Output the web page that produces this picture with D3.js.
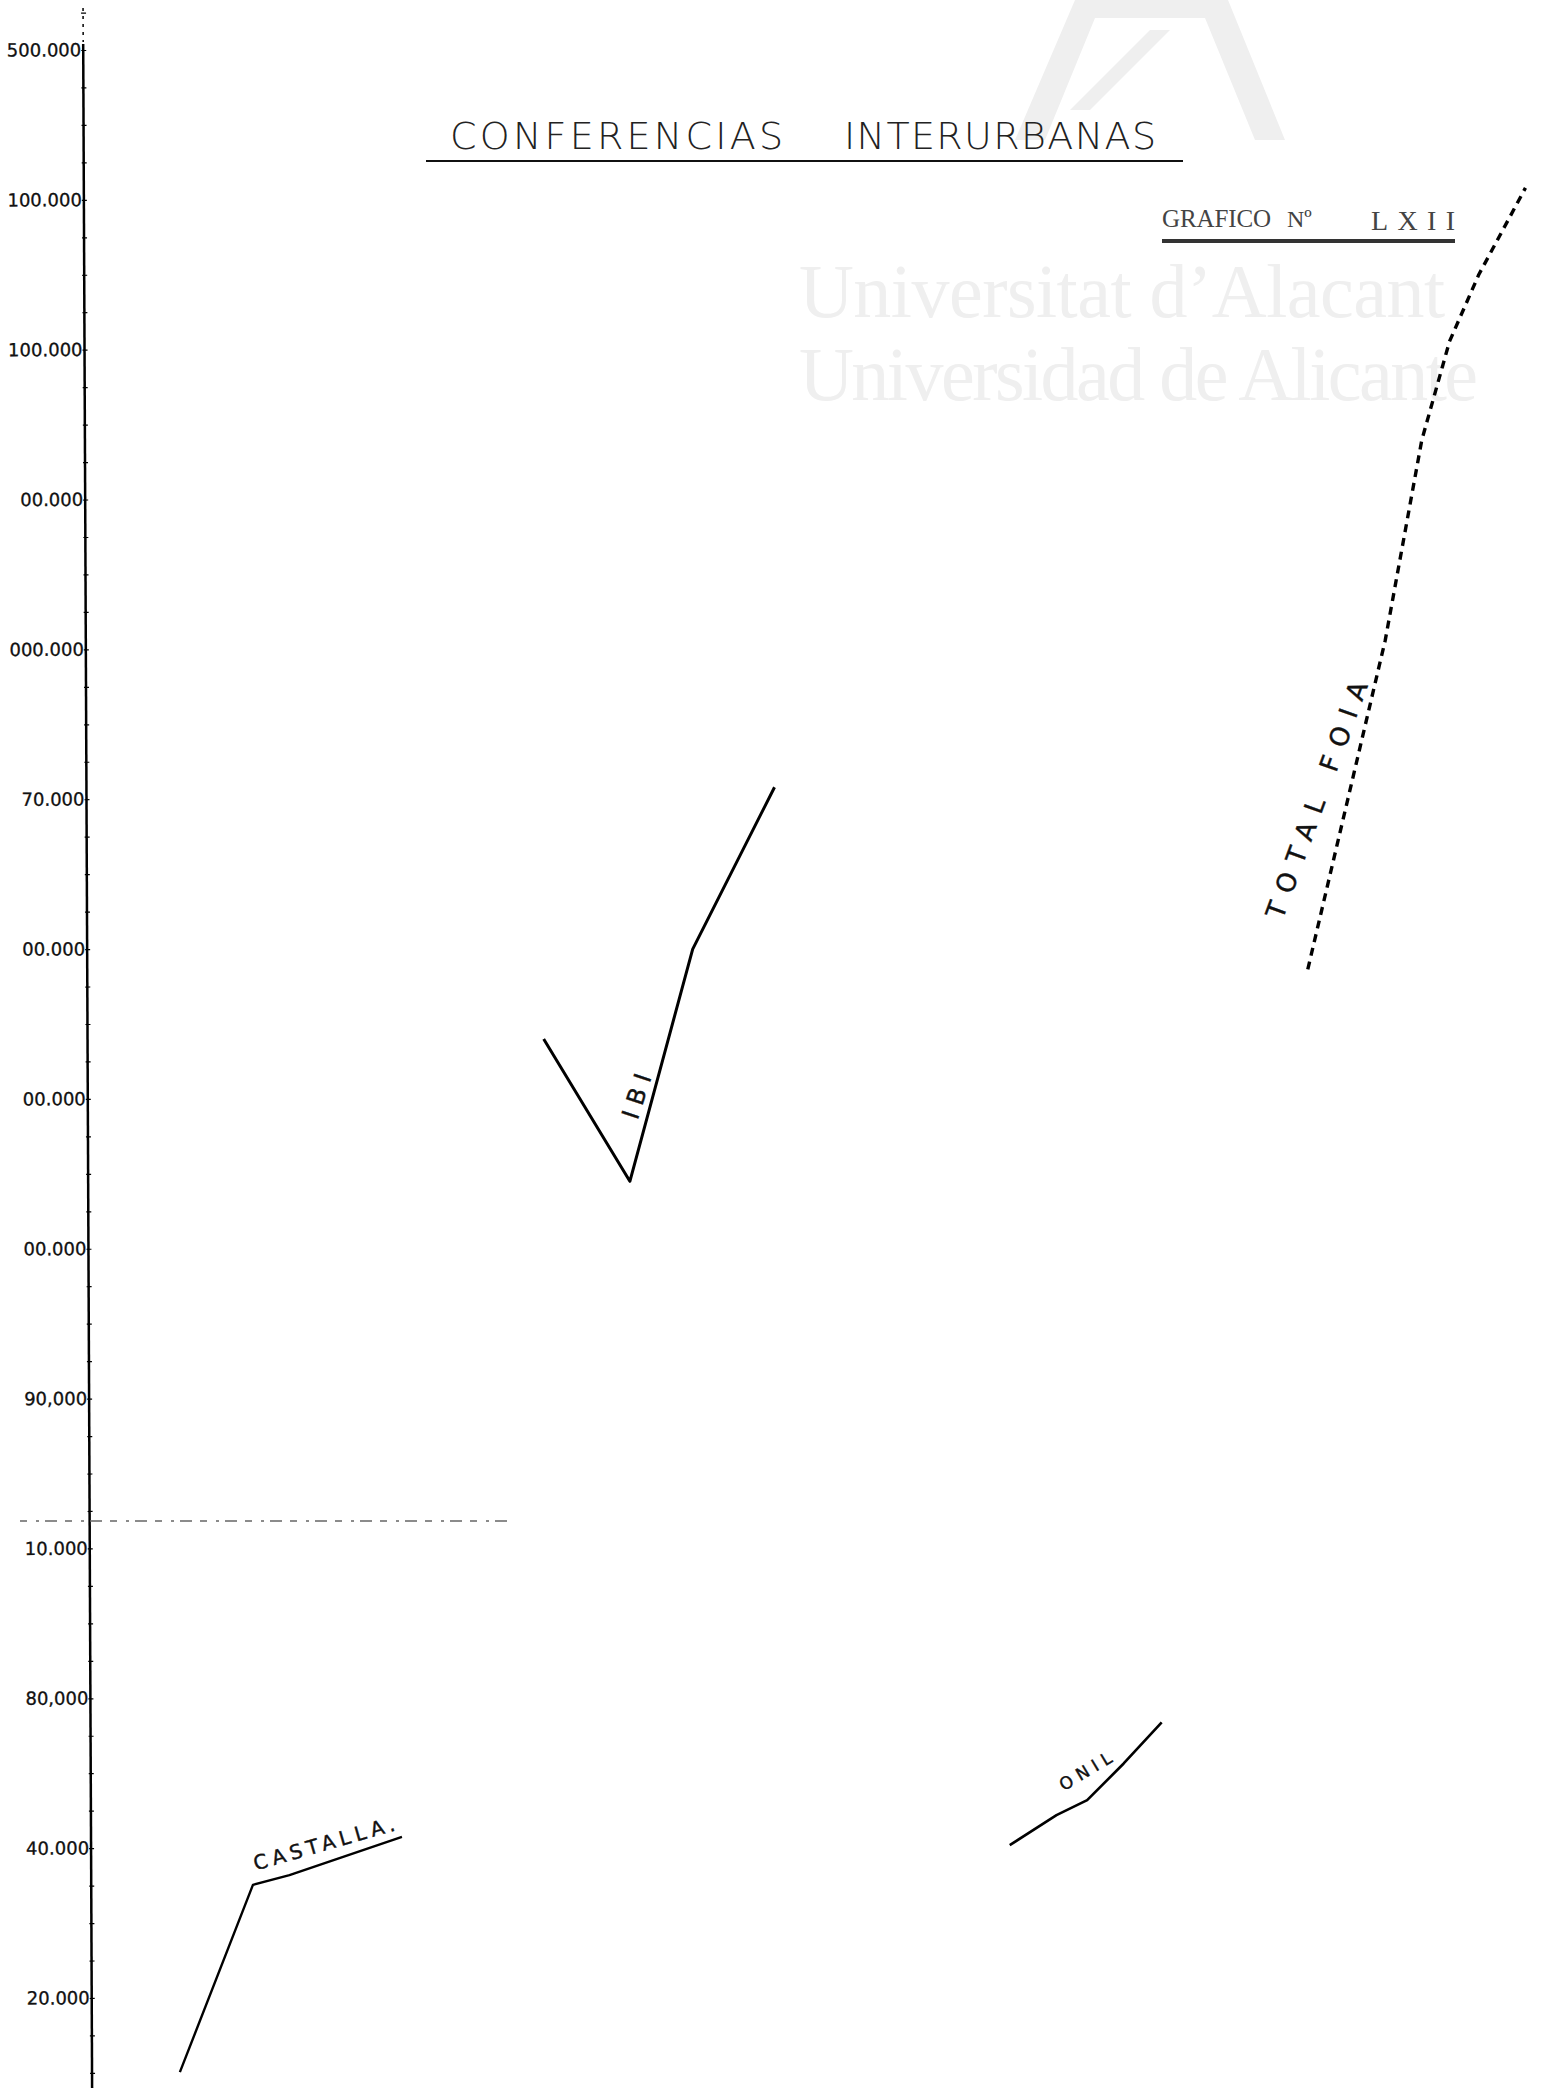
<!DOCTYPE html>
<html>
<head>
<meta charset="utf-8">
<script src="https://cdn.jsdelivr.net/npm/d3@7"></script>
<style>
body { margin: 0; background: #fff; }
svg { display: block; }
</style>
</head>
<body>
<div class="chart"></div>
<script>

// Values
//
// left scale, one label every 20.000 (labels as they read, left digits are cut by the scan)
var tickValues = [280000, 260000, 240000, 220000, 200000, 180000, 160000, 140000,
                  120000, 100000, 80000, 60000, 40000, 20000];
var tickLabels = ["500.000", "100.000", "100.000", "00.000", "000.000", "70.000", "00.000",
                  "00.000", "00.000", "90,000", "10.000", "80,000", "40.000", "20.000"];

// no x axis on the sheet: x is read as % of the page width
var ibiX = [31.6, 37.5, 41.8, 47.4];
var ibiY = [148000, 129000, 160000, 181600];

var foiaX = [83.9, 89.2, 91.7, 93.6, 95.6, 98.8];
var foiaY = [157300, 201200, 227900, 241100, 250000, 261600];

var castallaX = [6.7, 11.7, 14.2, 21.9];
var castallaY = [10100, 35100, 36400, 41500];

var onilX = [63.5, 66.7, 68.8, 71.3, 73.9];
var onilY = [40400, 44400, 46400, 51300, 56800];


var width = 1543,
    height = 2088;

var svg = d3.select(".chart")
	.append("svg")
	.attr("width", width)
	.attr("height", height)

var x = d3.scaleLinear()
	.domain([0, 100])
	.range([82, width])

var y = d3.scaleLinear()
	.domain([20000, 280000])
	.range([1998, 50])


// watermark of the archive (very light)
var wm = svg.append("g").attr("fill", "#efefef")
wm.append("path")
	.attr("d", "M1075,0 L1015,140 L1045,140 L1095,18 L1205,18 L1255,140 L1285,140 L1228,0 Z M1070,110 L1150,30 L1170,30 L1090,110 Z")
wm.append("text")
	.attr("x", 799).attr("y", 317)
	.attr("font-family", "Liberation Serif")
	.attr("font-size", 76)
	.attr("textLength", 646)
	.text("Universitat d\u2019Alacant")
wm.append("text")
	.attr("x", 799).attr("y", 400)
	.attr("font-family", "Liberation Serif")
	.attr("font-size", 76)
	.attr("textLength", 679)
	.text("Universidad de Alicante")


// title
svg.append("text")
	.attr("x", 450).attr("y", 149)
	.attr("font-family", "DejaVu Sans")
	.attr("font-weight", 200)
	.attr("font-size", 38)
	.attr("fill", "#222")
	.attr("textLength", 333)
	.text("CONFERENCIAS")
svg.append("text")
	.attr("x", 844).attr("y", 149)
	.attr("font-family", "DejaVu Sans")
	.attr("font-weight", 200)
	.attr("font-size", 38)
	.attr("fill", "#222")
	.attr("textLength", 312)
	.text("INTERURBANAS")
svg.append("line")
	.attr("x1", 426).attr("x2", 1183)
	.attr("y1", 161).attr("y2", 161)
	.attr("stroke", "#111")
	.attr("stroke-width", 2)

var sub = svg.append("g")
	.attr("font-family", "Liberation Serif")
	.attr("fill", "#444")
sub.append("text").attr("x", 1162).attr("y", 227).attr("font-size", 25).attr("textLength", 109).text("GRAFICO")
sub.append("text").attr("x", 1287).attr("y", 227).attr("font-size", 24).text("Nº")
sub.append("text").attr("x", 1371).attr("y", 230).attr("font-size", 28).attr("textLength", 84).text("LXII")
svg.append("line")
	.attr("x1", 1162).attr("x2", 1455)
	.attr("y1", 241).attr("y2", 241)
	.attr("stroke", "#333")
	.attr("stroke-width", 4)


// vertical scale, drawn a little skewed like on the sheet
var axisG = svg.append("g")
	.attr("transform", "translate(83,0) rotate(-0.25)")

axisG.append("line")
	.attr("y1", 44).attr("y2", height)
	.attr("stroke", "#000")
	.attr("stroke-width", 2.5)
axisG.append("line")
	.attr("y1", 8).attr("y2", 42)
	.attr("stroke", "#000")
	.attr("stroke-width", 1.5)
	.attr("stroke-dasharray", "3,5")

var minor = axisG.append("g")
	.call(d3.axisLeft(y).tickValues(d3.range(10000, 290001, 5000)).tickSize(3).tickFormat(""))
minor.select(".domain").remove()
minor.selectAll("line").attr("x1", -2).attr("x2", 3).attr("stroke-width", 1.2)

var major = axisG.append("g")
	.call(d3.axisLeft(y)
		.tickValues(tickValues)
		.tickFormat(function(d, i) { return tickLabels[i]; })
		.tickSize(0)
		.tickPadding(2))
major.select(".domain").remove()
major.selectAll("text")
	.attr("font-family", "DejaVu Sans")
	.attr("font-size", 18)
	.attr("fill", "#111")
	.attr("stroke", "#111")
	.attr("stroke-width", 0.3)


// faint dashed rule across the lower part
svg.append("line")
	.attr("x1", 20).attr("x2", 512)
	.attr("y1", 1521).attr("y2", 1521)
	.attr("stroke", "#666")
	.attr("stroke-width", 1.5)
	.attr("stroke-dasharray", "7,9,3,6,12,8")


// series
var line = d3.line()
	.x(function(d) { return x(d[0]); })
	.y(function(d) { return y(d[1]); })

var series = [
	{ name: "ibi", xs: ibiX, ys: ibiY, w: 3, dash: null },
	{ name: "foia", xs: foiaX, ys: foiaY, w: 3.4, dash: "8,6" },
	{ name: "castalla", xs: castallaX, ys: castallaY, w: 2.4, dash: null },
	{ name: "onil", xs: onilX, ys: onilY, w: 2.6, dash: null }
]

svg.selectAll(".serie")
	.data(series)
	.enter().append("path")
	.attr("class", "serie")
	.attr("d", function(s) { return line(d3.zip(s.xs, s.ys)); })
	.attr("fill", "none")
	.attr("stroke", "#000")
	.attr("stroke-width", function(s) { return s.w; })
	.attr("stroke-dasharray", function(s) { return s.dash; })
	.attr("stroke-linejoin", "round")


// hand lettered names along the lines
function label(txt, px, py, angle, size, len) {
	svg.append("text")
		.attr("transform", "translate(" + px + "," + py + ") rotate(" + angle + ")")
		.attr("text-anchor", "middle")
		.attr("font-family", "DejaVu Sans")
		.attr("font-size", size)
		.attr("fill", "#111")
		.attr("stroke", "#111")
		.attr("stroke-width", 0.4)
		.attr("textLength", len)
		.text(txt)
}

label("IBI", x(38.5), y(140000), -72, 24, 46)
label("TOTAL  FOIA", x(85.1), y(179500), -70, 26, 250)
label("CASTALLA.", x(16.7), y(39700), -16, 20, 146)
label("ONIL", x(68.9), y(49600), -31, 17, 58)

</script>
</body>
</html>
